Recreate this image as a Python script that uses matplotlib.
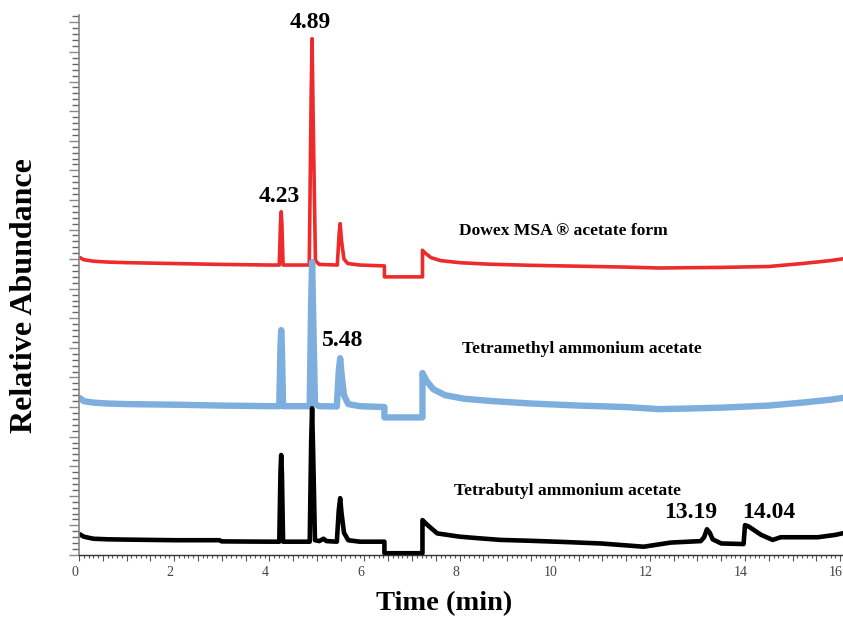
import numpy as np
import matplotlib.pyplot as plt
import matplotlib.transforms as mtransforms
from matplotlib.ticker import MultipleLocator, FuncFormatter

# Chromatogram traces (time in min, relative abundance in arbitrary offset units)
red_t = [0.02, 0.1, 0.3, 0.6, 1.0, 2.0, 3.0, 4.0, 4.21, 4.235, 4.25, 4.265, 4.29, 4.84, 4.88,
         4.90, 4.92, 4.97, 5.05, 5.43, 5.47, 5.49, 5.52, 5.57, 5.65, 5.9, 6.42, 6.42, 7.22, 7.22,
         7.28, 7.4, 7.6, 8.0, 8.6, 9.5, 10.5, 11.5, 12.2, 12.8, 13.5, 14.5, 15.2, 15.8, 16.1]
red_y = [10.05, 9.98, 9.93, 9.9, 9.88, 9.85, 9.82, 9.8, 9.8, 11.2, 11.6, 11.2, 9.8, 9.8, 15.5,
         17.45, 15.0, 9.95, 9.82, 9.8, 10.9, 11.2, 10.6, 10.0, 9.85, 9.8, 9.77, 9.4, 9.4, 10.3,
         10.2, 10.05, 9.95, 9.88, 9.83, 9.79, 9.76, 9.73, 9.7, 9.71, 9.72, 9.75, 9.85, 9.95, 10.02]

blue_t = [0.02, 0.1, 0.3, 0.6, 1.0, 2.0, 3.0, 4.0, 4.21, 4.235, 4.25, 4.265, 4.29, 4.85, 4.88,
          4.90, 4.92, 4.96, 5.05, 5.42, 5.46, 5.49, 5.52, 5.57, 5.66, 5.9, 6.42, 6.42, 7.22, 7.22,
          7.3, 7.45, 7.7, 8.1, 8.7, 9.5, 10.5, 11.5, 12.2, 12.8, 13.5, 14.5, 15.2, 15.8, 16.1]
blue_y = [5.3, 5.2, 5.15, 5.12, 5.1, 5.08, 5.05, 5.03, 5.03, 7.0, 7.6, 7.0, 5.03, 5.03, 8.5,
          9.9, 8.3, 5.1, 5.03, 5.02, 6.2, 6.65, 6.1, 5.4, 5.1, 5.03, 5.0, 4.65, 4.65, 6.15,
          5.9, 5.6, 5.4, 5.28, 5.2, 5.12, 5.05, 5.0, 4.93, 4.95, 4.98, 5.05, 5.15, 5.25, 5.32]

black_t = [0.02, 0.1, 0.3, 0.6, 1.0, 2.0, 2.95, 3.0, 4.0, 4.21, 4.235, 4.25, 4.265, 4.29, 4.85,
           4.88, 4.90, 4.92, 4.96, 5.05, 5.14, 5.2, 5.42, 5.46, 5.49, 5.52, 5.57, 5.66, 5.9, 6.42,
           6.42, 7.22, 7.22, 7.3, 7.53, 8.0, 8.37, 8.86, 9.5, 10.2, 10.97, 11.87, 12.44, 13.07, 13.14,
           13.2, 13.26, 13.32, 13.5, 13.97, 14.0, 14.08, 14.34, 14.58, 14.75, 15.53, 15.9, 16.1]
black_y = [0.7, 0.62, 0.55, 0.53, 0.52, 0.5, 0.5, 0.46, 0.45, 0.45, 2.8, 3.38, 2.8, 0.45, 0.45,
           3.8, 4.96, 3.6, 0.5, 0.47, 0.55, 0.47, 0.45, 1.5, 1.92, 1.4, 0.75, 0.5, 0.45, 0.45,
           0.06, 0.06, 1.18, 1.05, 0.73, 0.62, 0.57, 0.51, 0.48, 0.44, 0.39, 0.28, 0.42, 0.47, 0.6,
           0.87, 0.75, 0.53, 0.39, 0.37, 1.01, 0.96, 0.68, 0.51, 0.6, 0.6, 0.68, 0.75]

series_names = ['Dowex MSA \u00ae acetate form', 'Tetramethyl ammonium acetate',
                'Tetrabutyl ammonium acetate']
peak_labels = ['4.89', '4.23', '5.48', '13.19', '14.04']

serif = 'Liberation Serif'

fig = plt.figure(figsize=(8.43, 6.21), dpi=100)
ax = fig.add_axes([79/843, 66/621, 1 - 79/843, 540/621])

ax.plot(red_t, red_y, color='#EE2B2B', lw=2.6, solid_joinstyle='round', solid_capstyle='round')
ax.plot(blue_t, blue_y, color='#7EAEDD', lw=4.6, solid_joinstyle='round', solid_capstyle='round')
ax.plot(black_t, black_y, color='black', lw=3.3, solid_joinstyle='round', solid_capstyle='round')

ax.set_xlim(0, 16.06)
ax.set_ylim(0, 18.25)

# Axes styling
for s in ['top', 'right']:
    ax.spines[s].set_visible(False)
ax.spines['left'].set_color('#888888')
ax.spines['bottom'].set_color('#333333')
ax.spines['left'].set_linewidth(1.2)
ax.spines['bottom'].set_linewidth(1.0)

ax.xaxis.set_major_locator(MultipleLocator(0.5))
ax.xaxis.set_minor_locator(MultipleLocator(0.1))
ax.xaxis.set_major_formatter(FuncFormatter(
    lambda v, p: f'{int(round(v))}' if abs(v / 2 - round(v / 2)) < 1e-6 else ''))
ax.tick_params(axis='x', which='major', length=4, width=0.8, color='#555555',
               labelsize=10, labelcolor='#444444', pad=4)
ax.tick_params(axis='x', which='minor', length=2.5, width=0.8, color='#555555')

ax.yaxis.set_major_locator(MultipleLocator(1))
ax.yaxis.set_minor_locator(MultipleLocator(0.2))
ax.yaxis.set_major_formatter(FuncFormatter(lambda v, p: ''))
ax.tick_params(axis='y', which='major', length=7, width=1.0, color='#888888')
ax.tick_params(axis='y', which='minor', length=5, width=1.0, color='#666666')

shift = mtransforms.ScaledTranslation(-4/100, 0, fig.dpi_scale_trans)
for lab in ax.get_xticklabels():
    lab.set_fontfamily(serif)
    lab.set_transform(lab.get_transform() + shift)

# Peak retention time labels
peak_x = [4.86, 4.21, 5.54, 12.86, 14.5]
peak_y = [18.0, 12.1, 7.26, 1.45, 1.45]
for txt, px, py in zip(peak_labels, peak_x, peak_y):
    ax.text(px, py, txt, ha='center', va='center', fontsize=17, fontweight='bold',
            family=serif, clip_on=False)

# Series names
name_x = [10.19, 10.57, 10.27]
name_y = [10.95, 6.96, 2.16]
for txt, nx, ny in zip(series_names, name_x, name_y):
    ax.text(nx, ny, txt, ha='center', va='center', fontsize=12.6, fontweight='bold',
            family=serif)

fig.text(25/843, 1 - 296/621, 'Relative Abundance', rotation=90, ha='center', va='center',
         fontsize=23, fontweight='bold', family=serif)
fig.text(444/843, 1 - 604/621, 'Time (min)', ha='center', va='center',
         fontsize=20.5, fontweight='bold', family=serif)

fig.savefig('out.png', dpi=100)
